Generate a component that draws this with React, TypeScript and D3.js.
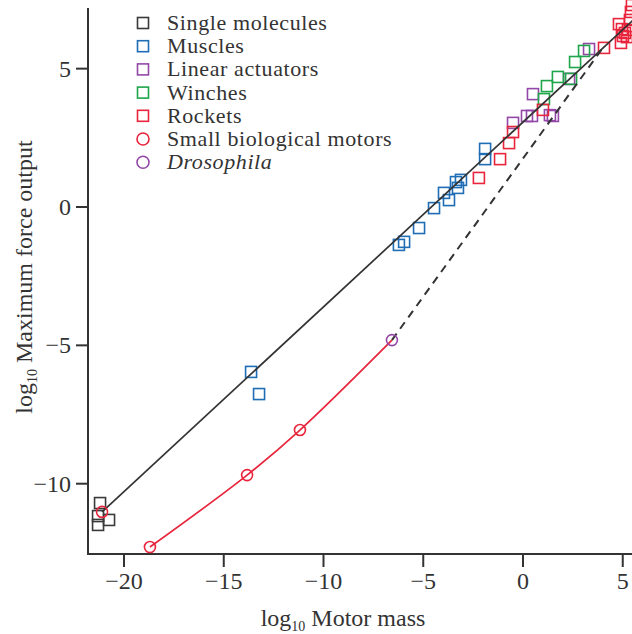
import React from "react";
import * as d3 from "d3";

// log10 mass, log10 force
const singleMolecules = [
  [-21.2, -10.7],
  [-21.3, -11.17],
  [-21.3, -11.49],
  [-20.75, -11.31],
];
const muscles = [
  [-13.63, -5.96],
  [-13.23, -6.76],
  [-6.22, -1.37],
  [-5.96, -1.26],
  [-5.21, -0.76],
  [-4.46, -0.04],
  [-3.71, 0.25],
  [-3.96, 0.51],
  [-3.26, 0.69],
  [-3.36, 0.9],
  [-3.11, 0.98],
  [-1.9, 1.73],
  [-1.9, 2.1],
];
const linearActuators = [
  [-0.5, 3.04],
  [0.2, 3.29],
  [0.45, 3.29],
  [0.5, 4.08],
  [1.35, 3.32],
  [1.5, 3.29],
  [2.31, 4.63],
  [3.31, 5.71],
];
const winches = [
  [1.05, 3.9],
  [1.2, 4.37],
  [1.75, 4.7],
  [2.41, 4.63],
  [2.61, 5.24],
  [3.06, 5.64],
];
const rockets = [
  [-2.21, 1.05],
  [-1.15, 1.73],
  [-0.7, 2.31],
  [-0.5, 2.71],
  [1.0, 3.51],
  [4.06, 5.75],
  [4.81, 6.61],
  [4.96, 6.43],
  [5.11, 6.29],
  [5.26, 6.4],
  [5.01, 6.18],
  [5.21, 6.14],
  [4.91, 5.93],
  [5.36, 6.76],
  [5.41, 7.05],
  [5.46, 7.3],
];
const smallMotors = [
  [-21.1, -11.02],
  [-18.7, -12.29],
  [-13.83, -9.69],
  [-11.18, -8.06],
];
const drosophila = [[-6.57, -4.81]];
const motorCurve = [
  [-18.7, -12.29],
  [-13.83, -9.69],
  [-11.18, -8.06],
  [-6.57, -4.81],
];
const fitLine = [
  [-21.1, -11.02],
  [5.5, 6.74],
];
const dashedLine = [
  [-6.57, -4.81],
  [3.95, 5.7],
];
const xTicks = [-20, -15, -10, -5, 0, 5];
const yTicks = [-10, -5, 0, 5];

const legendItems = [
  { label: "Single molecules", color: "#3a3a3a", shape: "square" },
  { label: "Muscles", color: "#1f6db5", shape: "square" },
  { label: "Linear actuators", color: "#9348a8", shape: "square" },
  { label: "Winches", color: "#1fa64b", shape: "square" },
  { label: "Rockets", color: "#e8253c", shape: "square" },
  { label: "Small biological motors", color: "#e8253c", shape: "circle" },
  { label: "Drosophila", color: "#9348a8", shape: "circle" },
];

const W = 632;
const H = 634;
const font = "'Liberation Serif', 'Times New Roman', serif";
const ink = "#333";

export default function App() {
  const x = d3.scaleLinear().domain([-20, 5]).range([124, 622.75]);
  const y = d3.scaleLinear().domain([-10, 5]).range([483.7, 68.65]);
  const axisLeft = 88;
  const axisBottom = 554;
  const sq = 11;

  const line = d3
    .line<number[]>()
    .x((d) => x(d[0]))
    .y((d) => y(d[1]));
  const curve = d3
    .line<number[]>()
    .x((d) => x(d[0]))
    .y((d) => y(d[1]))
    .curve(d3.curveCatmullRom);

  const squares = (data: number[][], color: string) =>
    data.map((d, i) => (
      <rect
        key={color + i}
        x={x(d[0]) - sq / 2}
        y={y(d[1]) - sq / 2}
        width={sq}
        height={sq}
        fill="none"
        stroke={color}
        strokeWidth={1.6}
      />
    ));

  const fmt = (t: number) => (t < 0 ? "\u2212" + Math.abs(t) : String(t));

  return (
    <svg
      width={W}
      height={H}
      style={{ position: "absolute", left: 0, top: 0, background: "#fff" }}
      fontFamily={font}
    >
      {/* axes */}
      <line x1={axisLeft} x2={axisLeft} y1={8} y2={axisBottom} stroke={ink} strokeWidth={2} />
      <line x1={axisLeft - 1} x2={W} y1={axisBottom} y2={axisBottom} stroke={ink} strokeWidth={2} />
      {xTicks.map((t) => (
        <g key={"x" + t}>
          <line x1={x(t)} x2={x(t)} y1={axisBottom} y2={axisBottom + 13} stroke={ink} strokeWidth={2} />
          <text x={x(t)} y={589} textAnchor="middle" fontSize={24} fill={ink}>
            {fmt(t)}
          </text>
        </g>
      ))}
      {yTicks.map((t) => (
        <g key={"y" + t}>
          <line x1={axisLeft - 12} x2={axisLeft} y1={y(t)} y2={y(t)} stroke={ink} strokeWidth={2} />
          <text x={71} y={y(t) + 8} textAnchor="end" fontSize={24} fill={ink}>
            {fmt(t)}
          </text>
        </g>
      ))}

      {/* axis titles */}
      <text x={343} y={626} textAnchor="middle" fontSize={24} fill={ink}>
        log<tspan fontSize={14} dy={5}>10</tspan>
        <tspan dy={-5}> Motor mass</tspan>
      </text>
      <text
        transform={`translate(32,277) rotate(-90)`}
        textAnchor="middle"
        fontSize={24}
        fill={ink}
      >
        log<tspan fontSize={14} dy={5}>10</tspan>
        <tspan dy={-5}> Maximum force output</tspan>
      </text>

      {/* points */}
      {squares(singleMolecules, legendItems[0].color)}
      {squares(muscles, legendItems[1].color)}
      {squares(linearActuators, legendItems[2].color)}
      {squares(winches, legendItems[3].color)}
      {squares(rockets, legendItems[4].color)}

      {/* lines */}
      <path d={line(fitLine) ?? ""} fill="none" stroke={ink} strokeWidth={1.7} />
      <path
        d={line(dashedLine) ?? ""}
        fill="none"
        stroke={ink}
        strokeWidth={2}
        strokeDasharray="8,6"
      />
      <path d={curve(motorCurve) ?? ""} fill="none" stroke="#e8253c" strokeWidth={1.7} />

      {smallMotors.map((d, i) => (
        <circle key={"m" + i} cx={x(d[0])} cy={y(d[1])} r={5.5} fill="none" stroke="#e8253c" strokeWidth={1.6} />
      ))}
      {drosophila.map((d, i) => (
        <circle key={"d" + i} cx={x(d[0])} cy={y(d[1])} r={5.5} fill="none" stroke="#9348a8" strokeWidth={1.6} />
      ))}

      {/* legend */}
      {legendItems.map((it, i) => {
        const cy = 23 + i * 23.2;
        return (
          <g key={it.label}>
            {it.shape === "square" ? (
              <rect x={137.5} y={cy - 5.5} width={11} height={11} fill="none" stroke={it.color} strokeWidth={1.6} />
            ) : (
              <circle cx={143} cy={cy} r={6} fill="none" stroke={it.color} strokeWidth={1.6} />
            )}
            <text
              x={167}
              y={cy + 7}
              fontSize={22}
              letterSpacing={0.6}
              fill={ink}
              fontStyle={it.label === "Drosophila" ? "italic" : "normal"}
            >
              {it.label}
            </text>
          </g>
        );
      })}
    </svg>
  );
}
